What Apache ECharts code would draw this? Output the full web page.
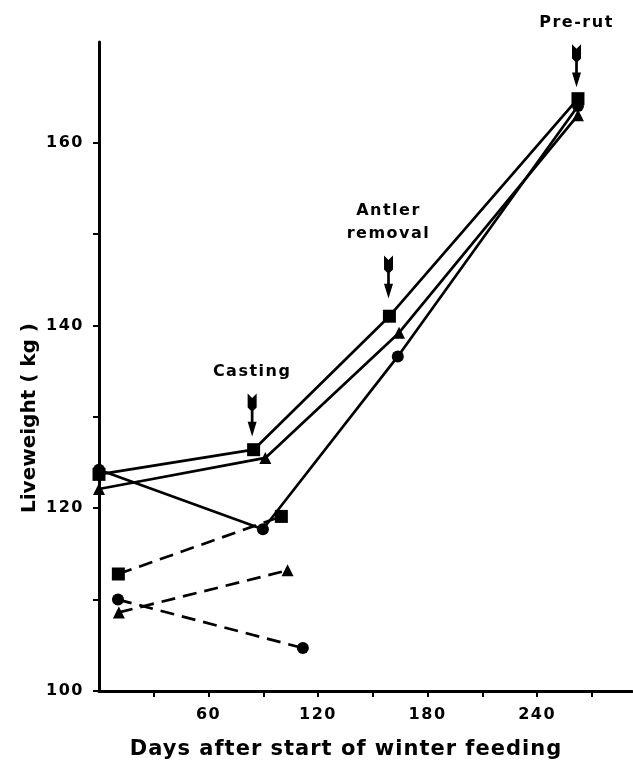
<!DOCTYPE html>
<html>
<head>
<meta charset="utf-8">
<script src="https://cdn.jsdelivr.net/npm/echarts@6/dist/echarts.min.js"></script>
<style>
html,body{margin:0;padding:0;background:#fff;}
#main{width:633px;height:768px;}
</style>
</head>
<body>
<div id="main"></div>
<script>
// ---- data (days after start of winter feeding, liveweight kg) ----
const solidSquareDays   = [0, 84.7, 159.1, 262.4];
const solidSquareKg     = [123.7, 126.4, 141.0, 164.8];
const solidTriangleDays = [0, 91.1, 164.4, 262.4];
const solidTriangleKg   = [122.1, 125.5, 139.2, 163.0];
const solidCircleDays   = [0, 89.8, 163.7, 262.4];
const solidCircleKg     = [124.2, 117.7, 136.6, 164.0];

const dashedSquareDays   = [10.6, 99.9];
const dashedSquareKg     = [112.8, 119.1];
const dashedTriangleDays = [10.9, 103.3];
const dashedTriangleKg   = [108.6, 113.2];
const dashedCircleDays   = [10.4, 111.7];
const dashedCircleKg     = [110.0, 104.7];

const eventNames = ['Casting', 'Antler\nremoval', 'Pre-rut'];
const eventDays  = [83.9, 158.6, 261.6];
const eventKg    = [130.2, 145.3, 168.4];

const xTickValues  = [30, 60, 90, 120, 150, 180, 210, 240, 270];
const xLabelValues = [60, 120, 180, 240];
const yTickValues  = [100, 110, 120, 130, 140, 150, 160];
const yLabelValues = [100, 120, 140, 160];

const zip = (a, b) => a.map((v, i) => [v, b[i]]);

// letter-spaced lettering like the original typeset figure
(function () {
  const proto = CanvasRenderingContext2D.prototype;
  const orig = proto.fillText;
  proto.fillText = function () {
    if ('letterSpacing' in this) {
      const f = this.font || '';
      if (f.indexOf('16px') >= 0) this.letterSpacing = '1.5px';
      else if (f.indexOf('21px') >= 0) this.letterSpacing = '1px';
      else this.letterSpacing = '0px';
    }
    return orig.apply(this, arguments);
  };
})();

const FONT = '"DejaVu Sans", "Liberation Sans", sans-serif';
// fletched arrow: notched feather block, shaft, head
const arrowPath = 'path://M0,0 L40,40 L80,0 L80,125 L40,165 L0,125 Z M28,140 L52,140 L52,275 L28,275 Z M0,250 L80,250 L40,380 Z';

function lineSeries(name, days, kg, symbol, size, dashed) {
  return {
    name: name,
    type: 'line',
    data: zip(days, kg),
    symbol: symbol,
    symbolSize: size,
    showAllSymbol: true,
    clip: false,
    itemStyle: { color: '#000', opacity: 1 },
    lineStyle: { color: '#000', width: 2.7, type: dashed ? [14, 8] : 'solid' },
    emphasis: { disabled: true },
    animation: false,
    z: 3
  };
}

const chart = echarts.init(document.getElementById('main'), null, { renderer: 'canvas' });

chart.setOption({
  backgroundColor: '#fff',
  animation: false,
  grid: { left: 99, right: 1, top: 42, bottom: 77, containLabel: false },
  xAxis: {
    type: 'value',
    min: 0,
    max: 292,
    axisLine: { show: true, lineStyle: { color: '#000', width: 3 } },
    axisTick: { show: true, inside: false, length: 6, customValues: xTickValues, lineStyle: { color: '#000', width: 2 } },
    axisLabel: { show: true, customValues: xLabelValues, margin: 16, fontFamily: FONT, fontWeight: 'bold', fontSize: 16, color: '#000' },
    splitLine: { show: false }
  },
  yAxis: {
    type: 'value',
    min: 100,
    max: 171,
    axisLine: { show: true, lineStyle: { color: '#000', width: 3 } },
    axisTick: { show: true, inside: false, length: 6, customValues: yTickValues, lineStyle: { color: '#000', width: 2 } },
    axisLabel: { show: true, customValues: yLabelValues, margin: 15, fontFamily: FONT, fontWeight: 'bold', fontSize: 16, color: '#000' },
    splitLine: { show: false }
  },
  graphic: [{
    type: 'text',
    x: 30,
    y: 418,
    rotation: Math.PI / 2,
    style: {
      text: 'Liveweight ( kg )',
      font: 'bold 20px ' + FONT,
      fill: '#000',
      align: 'center',
      verticalAlign: 'middle'
    }
  }, {
    type: 'text',
    x: 346,
    y: 750,
    style: {
      text: 'Days after start of winter feeding',
      font: 'bold 21px ' + FONT,
      fill: '#000',
      align: 'center',
      verticalAlign: 'middle'
    }
  }],
  series: [
    lineSeries('dashedSquare', dashedSquareDays, dashedSquareKg, 'rect', 13, true),
    lineSeries('dashedTriangle', dashedTriangleDays, dashedTriangleKg, 'triangle', 12, true),
    lineSeries('dashedCircle', dashedCircleDays, dashedCircleKg, 'circle', 12, true),
    lineSeries('solidCircle', solidCircleDays, solidCircleKg, 'circle', 12, false),
    lineSeries('solidTriangle', solidTriangleDays, solidTriangleKg, 'triangle', 12, false),
    lineSeries('solidSquare', solidSquareDays, solidSquareKg, 'rect', 13, false),
    {
      name: 'events',
      type: 'scatter',
      clip: false,
      data: eventDays.map((d, i) => ({ value: [d, eventKg[i]], name: eventNames[i] })),
      symbol: arrowPath,
      symbolSize: [9, 43],
      symbolKeepAspect: false,
      itemStyle: { color: '#000', opacity: 1 },
      label: {
        show: true,
        position: 'top',
        distance: 10,
        formatter: p => p.name,
        fontFamily: FONT,
        fontWeight: 'bold',
        fontSize: 16,
        lineHeight: 23,
        align: 'center',
        color: '#000',
        opacity: 1
      },
      emphasis: { disabled: true },
      z: 4
    }
  ]
});
</script>
</body>
</html>
